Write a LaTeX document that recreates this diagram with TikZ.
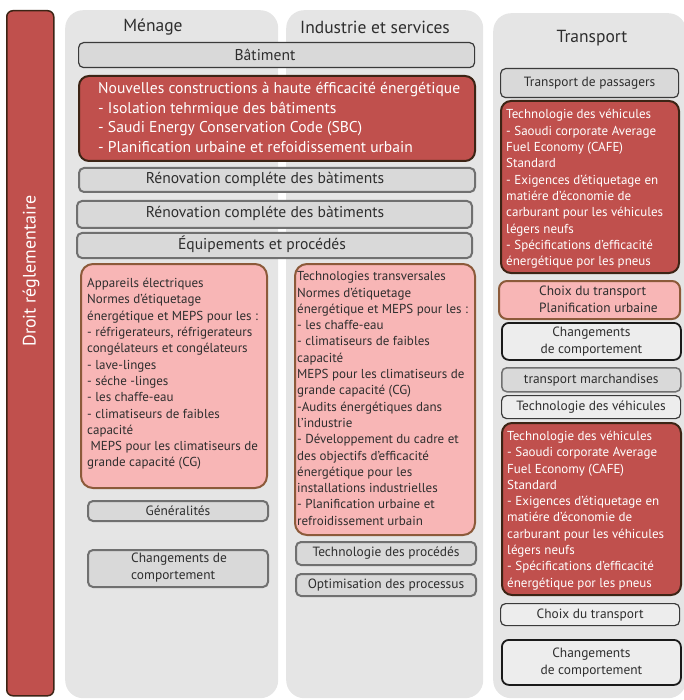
\documentclass[tikz,border=0pt]{standalone}
\usepackage{fontspec}
\setmainfont{PT Sans}
\definecolor{colbg}{HTML}{E5E5E5}
\definecolor{redfill}{HTML}{C0504D}
\definecolor{redline}{HTML}{3C2415}
\definecolor{pinkfill}{HTML}{F8B6B6}
\definecolor{pinkline}{HTML}{8C5A3A}
\definecolor{grayfill}{HTML}{D9D9D9}
\definecolor{grayline}{HTML}{707070}
\definecolor{darkline}{HTML}{3A3A3A}
\definecolor{lightfill}{HTML}{EDEDED}
\definecolor{blackline}{HTML}{1A1A1A}
\definecolor{textgray}{HTML}{2E2E2E}
\tikzset{
  colbox/.style={fill=colbg, draw=none, rounded corners=18, inner sep=0, anchor=north west},
  hdr/.style={font=\fontsize{17.5}{20}\selectfont, text=textgray, inner sep=0},
  barbox/.style={fill=redfill, draw=redline, line width=1.5, rounded corners=6, inner sep=0, anchor=north west},
  redbox/.style={fill=redfill, draw=redline, line width=2, rounded corners=10, inner sep=0, anchor=north west},
  pinkbox/.style={fill=pinkfill, draw=pinkline, line width=2, rounded corners=12, inner sep=0, anchor=north west},
  graybox/.style={fill=grayfill, draw=grayline, line width=2, rounded corners=5, inner sep=0, anchor=north west, text=textgray},
  darkbox/.style={fill=grayfill, draw=darkline, line width=1.2, rounded corners=5, inner sep=0, anchor=north west, text=textgray},
  lightbox/.style={fill=lightfill, draw=darkline, line width=1.2, rounded corners=5, inner sep=0, anchor=north west, text=textgray},
  blackbox/.style={fill=lightfill, draw=blackline, line width=1.8, rounded corners=7, inner sep=0, anchor=north west, text=textgray},
  bigtxt/.style={font=\fontsize{15.6}{19.5}\selectfont},
  smalltxt/.style={font=\fontsize{13}{16.3}\selectfont},
  labtxt/.style={font=\fontsize{13.4}{16.8}\selectfont},
  whitetxt/.style={text=white, align=left, inner sep=0, anchor=west},
  darktxt/.style={text=textgray, align=left, inner sep=0, anchor=west},
  ctrtxt/.style={text=textgray, align=center, inner sep=0},
}
\begin{document}
\begin{tikzpicture}[x=1pt,y=-1pt]
\useasboundingbox (0,0) rectangle (683,700);
% columns
\node[colbox, minimum width=213, minimum height=688] (c1) at (65,10) {};
\node[colbox, minimum width=197, minimum height=688] (c2) at (286,10) {};
\node[colbox, minimum width=193, minimum height=685] (c3) at (493,13) {};
% left bar
\node[barbox, minimum width=47, minimum height=685] (bar) at (6,10) {};
\node[text=white, font=\fontsize{18}{21}\selectfont, rotate=90, inner sep=0] (bart) at (31,271) {Droit réglementaire};
% headers
\node[hdr] (h1) at (153,27) {Ménage};
\node[hdr] (h2) at (375,27) {Industrie et services};
\node[hdr] (h3) at (592,38) {Transport};
% spanning boxes
\node[darkbox, minimum width=396, minimum height=25] (bat) at (78,42) {};
\node[ctrtxt, bigtxt] (batt) at (265,54.5) {Bâtiment};
\node[redbox, minimum width=396, minimum height=85] (nc) at (78,75) {};
\node[whitetxt, bigtxt] (nct) at (98,117.5) {Nouvelles constructions à haute éfficacité énergétique\\- Isolation tehrmique des bâtiments\\- Saudi Energy Conservation Code (SBC)\\- Planification urbaine et refoidissement urbain};
\node[graybox, minimum width=396, minimum height=24] (ren1) at (78,167) {};
\node[ctrtxt, bigtxt] (ren1t) at (265,179) {Rénovation compléte des bàtiments};
\node[graybox, minimum width=395, minimum height=27] (ren2) at (76,200) {};
\node[ctrtxt, bigtxt] (ren2t) at (265,213.5) {Rénovation compléte des bàtiments};
\node[graybox, minimum width=395, minimum height=25] (equ) at (76,232) {};
\node[ctrtxt, bigtxt] (equt) at (262,244.5) {Équipements et procédés};
% column 1
\node[pinkbox, minimum width=186, minimum height=224] (p1) at (80,263) {};
\node[darktxt, smalltxt] (p1t) at (87,374) {Appareils électriques\\Normes d’étiquetage\\énergétique et MEPS pour les :\\- réfrigerateurs, réfrigerateurs\\congélateurs et congélateurs\\- lave-linges\\- séche -linges\\- les chaffe-eau\\- climatiseurs de faibles\\capacité\\\ MEPS pour les climatiseurs de\\grande capacité (CG)};
\node[graybox, minimum width=180, minimum height=20, labtxt] (gen) at (87,500) {Généralités};
\node[graybox, minimum width=180, minimum height=37] (chg1) at (87,549) {};
\node[darktxt, labtxt] (chg1t) at (131,567.5) {Changements de\\comportement};
% column 2
\node[pinkbox, minimum width=180, minimum height=271] (p2) at (294,263) {};
\node[darktxt, smalltxt] (p2t) at (297,398.5) {Technologies transversales\\Normes d’étiquetage\\énergétique et MEPS pour les :\\- les chaffe-eau\\- climatiseurs de faibles\\capacité\\MEPS pour les climatiseurs de\\grande capacité (CG)\\-Audits énergétiques dans\\l’industrie\\- Développement du cadre et\\des objectifs d’efficacité\\énergétique pour les\\installations industrielles\\- Planification urbaine et\\refroidissement urbain};
\node[graybox, minimum width=180, minimum height=23, labtxt] (tp) at (295,541) {Technologie des procédés};
\node[graybox, minimum width=180, minimum height=22, labtxt] (op) at (295,573) {Optimisation des processus};
% column 3
\node[darkbox, minimum width=178, minimum height=29, labtxt] (tpas) at (500,68) {Transport de passagers};
\node[redbox, minimum width=178, minimum height=172] (r3a) at (500,100) {};
\node[whitetxt, smalltxt] (r3at) at (506,189) {Technologie des véhicules\\- Saoudi corporate Average\\Fuel Economy (CAFE)\\Standard\\- Exigences d’étiquetage en\\matiére d’économie de\\carburant pour les véhicules\\légers neufs\\- Spécifications d’efficacité\\énergétique por les pneus};
\node[pinkbox, rounded corners=8, minimum width=181, minimum height=38] (cp) at (498,280) {};
\node[darktxt, labtxt] (cpt) at (539,299.5) {Choix du transport\\Planification urbaine};
\node[blackbox, minimum width=179, minimum height=37, labtxt, align=center] (chg2) at (501,322) {Changements\\de comportement};
\node[darkbox, draw=grayline, line width=1.5, minimum width=179, minimum height=24, labtxt] (tm) at (501,367) {transport marchandises};
\node[lightbox, minimum width=179, minimum height=23, labtxt] (tv) at (501,395) {Technologie des véhicules};
\node[redbox, minimum width=179, minimum height=172] (r3b) at (501,422) {};
\node[whitetxt, smalltxt] (r3bt) at (507,510.5) {Technologie des véhicules\\- Saoudi corporate Average\\Fuel Economy (CAFE)\\Standard\\- Exigences d’étiquetage en\\matiére d’économie de\\carburant pour les véhicules\\légers neufs\\- Spécifications d’efficacité\\énergétique por les pneus};
\node[lightbox, minimum width=179, minimum height=22, labtxt] (ct) at (500,603) {Choix du transport};
\node[blackbox, minimum width=179, minimum height=45, labtxt, align=center] (chg3) at (501,639) {Changements\\de comportement};
\end{tikzpicture}
\end{document}
